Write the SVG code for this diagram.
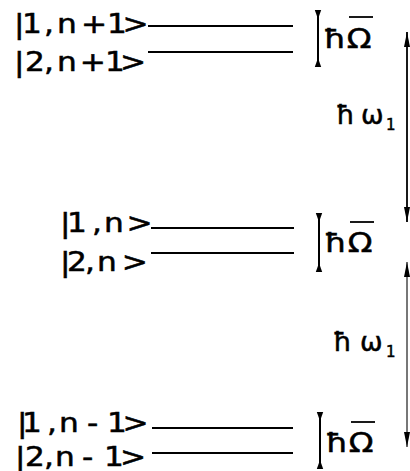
<svg xmlns="http://www.w3.org/2000/svg" width="410" height="471" viewBox="0 0 410 471">
<style>
  text { font-family: "DejaVu Sans", "Liberation Sans", sans-serif; fill: #000; stroke: #000; stroke-width: 0.5; }
  .ket { font-size: 26px; }
  .lab { font-size: 27px; }
  .sub { font-size: 15px; }
  .lvl { stroke: #000; stroke-width: 2.2; fill: none; }
  .bar { stroke: #000; stroke-width: 2; fill: none; }
  .ovl { stroke: #000; stroke-width: 1.8; }
  .big { stroke: #000; stroke-width: 1.8; fill: none; }
  .faint { stroke: #555; stroke-width: 1.6; fill: none; }
</style>
<defs>
  <marker id="inward" markerUnits="userSpaceOnUse" viewBox="-10 -5 12 10" markerWidth="12" markerHeight="10" refX="0" refY="0" orient="auto-start-reverse">
    <path d="M0,-3.2 L0,3.2 L-9,0 z" fill="#000"/>
  </marker>
  <marker id="tip" markerUnits="userSpaceOnUse" viewBox="-16 -5 18 10" markerWidth="18" markerHeight="10" refX="0" refY="0" orient="auto-start-reverse">
    <path d="M0,0 L-15,-3 L-15,3 z" fill="#000"/>
  </marker>
</defs>

<!-- n+1 manifold -->
<g id="level-1-np1">
  <text class="ket" transform="scale(1.2,1)" x="11.7 18.3 36.7 47.5 67.5 89.2 102" y="33">|1,n+1&gt;</text>
  <line class="lvl" x1="148" y1="26" x2="293" y2="26"/>
</g>
<g id="level-2-np1">
  <text class="ket" transform="scale(1.2,1)" x="11.7 20.8 36.7 47.5 66.5 87.5 100" y="71">|2,n+1&gt;</text>
  <line class="lvl" x1="148" y1="52" x2="293" y2="52"/>
</g>
<g id="split-np1">
  <line class="bar" x1="318" y1="10" x2="318" y2="67" marker-start="url(#inward)" marker-end="url(#inward)"/>
  <text class="lab" transform="scale(1.2,1)" x="269.5 289" y="48">ħΩ</text>
  <line class="ovl" x1="349" y1="17" x2="373" y2="17"/>
</g>

<!-- n manifold -->
<g id="level-1-n">
  <text class="ket" transform="scale(1.2,1)" x="50 55.8 76.7 86.7 105.5" y="232">|1,n&gt;</text>
  <line class="lvl" x1="151" y1="228" x2="294" y2="228"/>
</g>
<g id="level-2-n">
  <text class="ket" transform="scale(1.2,1)" x="50 55.8 70.8 80.8 101.5" y="271">|2,n&gt;</text>
  <line class="lvl" x1="151" y1="253" x2="294" y2="253"/>
</g>
<g id="split-n">
  <line class="bar" x1="319" y1="213" x2="319" y2="272" marker-start="url(#inward)" marker-end="url(#inward)"/>
  <text class="lab" transform="scale(1.2,1)" x="270.3 289.8" y="252">ħΩ</text>
  <line class="ovl" x1="350" y1="222" x2="374" y2="222"/>
</g>

<!-- n-1 manifold -->
<g id="level-1-nm1">
  <text class="ket" transform="scale(1.2,1)" x="14.2 18.3 39.2 49.2 72.5 89.2 102" y="432">|1,n-1&gt;</text>
  <line class="lvl" x1="152" y1="428" x2="293" y2="428"/>
</g>
<g id="level-2-nm1">
  <text class="ket" transform="scale(1.2,1)" x="12.5 20.8 36.7 45.8 68.3 86.7 100" y="466">|2,n-1&gt;</text>
  <line class="lvl" x1="152" y1="453" x2="293" y2="453"/>
</g>
<g id="split-nm1">
  <line class="bar" x1="320" y1="412" x2="320" y2="469" marker-start="url(#inward)" marker-end="url(#inward)"/>
  <text class="lab" transform="scale(1.2,1)" x="271.2 290.6" y="452">ħΩ</text>
  <line class="ovl" x1="351" y1="422" x2="375" y2="422"/>
</g>

<!-- connectors: photon energy spacing -->
<g id="connectors">
  <line class="big" x1="407" y1="32" x2="407" y2="222" marker-start="url(#tip)" marker-end="url(#tip)"/>
  <line class="faint" x1="407" y1="262" x2="407" y2="447" marker-start="url(#tip)" marker-end="url(#tip)"/>
  <text class="lab" y="124"><tspan x="336">ħ</tspan><tspan x="361">ω</tspan><tspan class="sub" x="386" dy="6">1</tspan></text>
  <text class="lab" y="351"><tspan x="333">ħ</tspan><tspan x="360">ω</tspan><tspan class="sub" x="386" dy="6">1</tspan></text>
</g>
</svg>
